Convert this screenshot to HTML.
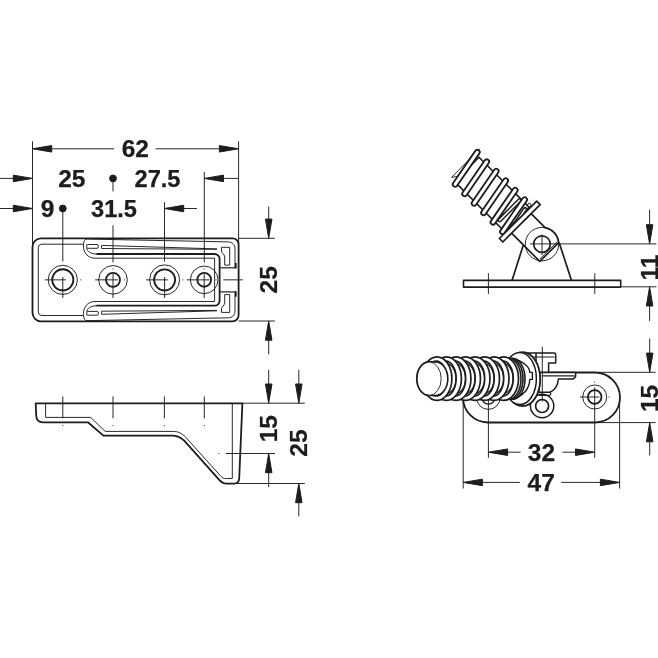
<!DOCTYPE html>
<html><head><meta charset="utf-8"><title>drawing</title>
<style>
html,body{margin:0;padding:0;background:#fff;width:658px;height:658px;overflow:hidden}
svg{display:block;filter:grayscale(1)}
svg *{stroke:#1d1d1b;stroke-linecap:butt;stroke-linejoin:round}
text{font-family:"Liberation Sans",sans-serif;font-weight:bold;font-size:24.5px;fill:#1d1d1b;stroke:#1d1d1b;stroke-width:0.25px;paint-order:stroke}
</style></head><body>
<svg width="658" height="658" viewBox="0 0 658 658">
<rect x="0" y="0" width="658" height="658" fill="#fff" stroke="none" style="stroke:none"/>
<line x1="32.50" y1="141.30" x2="32.50" y2="247.00" stroke-width="0.95"/>
<line x1="238.60" y1="141.30" x2="238.60" y2="246.00" stroke-width="0.95"/>
<polygon points="32.50,148.80 51.70,152.05 51.70,145.55" fill="#1d1d1b" stroke="none"/>
<line x1="50.00" y1="148.80" x2="114.00" y2="148.80" stroke-width="0.95"/>
<polygon points="238.60,148.80 219.40,145.55 219.40,152.05" fill="#1d1d1b" stroke="none"/>
<line x1="155.50" y1="148.80" x2="221.00" y2="148.80" stroke-width="0.95"/>
<text x="135.30" y="157.30" text-anchor="middle">62</text>
<line x1="0.00" y1="178.40" x2="14.00" y2="178.40" stroke-width="0.95"/>
<polygon points="32.50,178.40 13.30,175.15 13.30,181.65" fill="#1d1d1b" stroke="none"/>
<text x="71.80" y="186.80" text-anchor="middle">25</text>
<circle cx="113.00" cy="178.40" r="3.4" fill="#1d1d1b" stroke="none"/>
<text x="157.50" y="186.80" text-anchor="middle" textLength="46.01" lengthAdjust="spacingAndGlyphs">27.5</text>
<polygon points="204.30,178.40 223.50,181.65 223.50,175.15" fill="#1d1d1b" stroke="none"/>
<line x1="222.00" y1="178.40" x2="238.60" y2="178.40" stroke-width="0.95"/>
<line x1="204.30" y1="172.00" x2="204.30" y2="262.40" stroke-width="0.95"/>
<line x1="0.00" y1="208.50" x2="14.00" y2="208.50" stroke-width="0.95"/>
<polygon points="32.50,208.50 13.30,205.25 13.30,211.75" fill="#1d1d1b" stroke="none"/>
<text x="47.50" y="216.80" text-anchor="middle">9</text>
<circle cx="62.80" cy="208.50" r="3.4" fill="#1d1d1b" stroke="none"/>
<text x="114.00" y="216.80" text-anchor="middle" textLength="46.01" lengthAdjust="spacingAndGlyphs">31.5</text>
<polygon points="164.50,208.50 183.70,211.75 183.70,205.25" fill="#1d1d1b" stroke="none"/>
<line x1="182.00" y1="208.50" x2="197.00" y2="208.50" stroke-width="0.95"/>
<line x1="164.50" y1="202.20" x2="164.50" y2="261.50" stroke-width="0.95"/>
<line x1="113.00" y1="178.40" x2="113.00" y2="191.40" stroke-width="0.95"/>
<line x1="113.00" y1="225.30" x2="113.00" y2="262.40" stroke-width="0.95"/>
<line x1="62.80" y1="208.50" x2="62.80" y2="261.50" stroke-width="0.95"/>
<path d="M41,238.4 H232.6 A6,6 0 0 1 238.6,244.4 V315.3 A6,6 0 0 1 232.6,321.3 H41 A8.5,8.5 0 0 1 32.5,312.8 V246.9 A8.5,8.5 0 0 1 41,238.4 Z" stroke-width="1.8" fill="none" />
<path d="M83.4,244.2 H41.8 A3.5,3.5 0 0 0 38.3,247.7 V312 A3.5,3.5 0 0 0 41.8,315.5 H83.4" stroke-width="0.95" fill="none" />
<path d="M85.6,239.00 L228.5,241.90 C232,242.00 235,244.50 235,248.50 V267.80" stroke-width="0.95" fill="none" />
<path d="M85.8,239.00 C84,240.50 83.3,243.00 83.4,246.00 C83.5,253.00 88,258.20 95,258.20 H214.6 V279.85" stroke-width="0.95" fill="none" />
<path d="M86.8,244.50 V248.30 C87.2,251.50 91,254.00 97,254.00" stroke-width="0.95" fill="none" />
<path d="M96.5,254.00 H214.5 A5,5 0 0 1 219.6,259.00 V279.85" stroke-width="1.8" fill="none" />
<path d="M87.2,244.50 H97 A1.4,1.9 0 0 1 97,248.30 H87.2" stroke-width="0.95" fill="none" />
<path d="M217,248.90 L101.6,245.40 V248.50 L217,249.30" stroke-width="0.95" fill="none" />
<path d="M221.5,247.30 H229.7 V265.10 H224.7 V257.00 C224.7,254.00 221.5,253.00 221.5,251.00 Z" stroke-width="0.95" fill="none" />
<line x1="220.10" y1="267.80" x2="235.80" y2="267.80" stroke-width="1.2"/>
<line x1="235.80" y1="263.00" x2="235.80" y2="268.40" stroke-width="1.8"/>
<path d="M85.6,320.70 L228.5,317.80 C232,317.70 235,315.20 235,311.20 V291.90" stroke-width="0.95" fill="none" />
<path d="M85.8,320.70 C84,319.20 83.3,316.70 83.4,313.70 C83.5,306.70 88,301.50 95,301.50 H214.6 V279.85" stroke-width="0.95" fill="none" />
<path d="M86.8,315.20 V311.40 C87.2,308.20 91,305.70 97,305.70" stroke-width="0.95" fill="none" />
<path d="M96.5,305.70 H214.5 A5,5 0 0 0 219.6,300.70 V279.85" stroke-width="1.8" fill="none" />
<path d="M87.2,315.20 H97 A1.4,1.9 0 0 0 97,311.40 H87.2" stroke-width="0.95" fill="none" />
<path d="M217,310.80 L101.6,314.30 V311.20 L217,310.40" stroke-width="0.95" fill="none" />
<path d="M221.5,312.40 H229.7 V294.60 H224.7 V302.70 C224.7,305.70 221.5,306.70 221.5,308.70 Z" stroke-width="0.95" fill="none" />
<line x1="220.10" y1="291.90" x2="235.80" y2="291.90" stroke-width="1.2"/>
<line x1="235.80" y1="296.70" x2="235.80" y2="291.30" stroke-width="1.8"/>
<circle cx="62.80" cy="279.85" r="14.60" stroke-width="0.95" fill="none"/>
<circle cx="62.80" cy="279.85" r="10.60" stroke-width="1.8" fill="none"/>
<line x1="44.70" y1="279.85" x2="66.00" y2="279.85" stroke-width="0.95"/>
<line x1="80.20" y1="279.85" x2="81.20" y2="279.85" stroke-width="0.95"/>
<line x1="62.80" y1="277.00" x2="62.80" y2="298.00" stroke-width="0.95"/>
<circle cx="113.00" cy="279.85" r="14.30" stroke-width="0.95" fill="none"/>
<circle cx="113.00" cy="279.85" r="7.00" stroke-width="1.8" fill="none"/>
<line x1="95.20" y1="279.85" x2="118.00" y2="279.85" stroke-width="0.95"/>
<line x1="124.00" y1="279.85" x2="125.00" y2="279.85" stroke-width="0.95"/>
<line x1="113.00" y1="274.00" x2="113.00" y2="298.00" stroke-width="0.95"/>
<line x1="113.00" y1="268.40" x2="113.00" y2="269.40" stroke-width="0.95"/>
<circle cx="164.60" cy="279.85" r="15.00" stroke-width="0.95" fill="none"/>
<circle cx="164.60" cy="279.85" r="10.50" stroke-width="1.8" fill="none"/>
<line x1="146.00" y1="279.85" x2="167.80" y2="279.85" stroke-width="0.95"/>
<line x1="182.40" y1="279.85" x2="183.40" y2="279.85" stroke-width="0.95"/>
<line x1="164.60" y1="277.00" x2="164.60" y2="298.00" stroke-width="0.95"/>
<circle cx="204.20" cy="279.85" r="13.80" stroke-width="0.95" fill="none"/>
<circle cx="204.20" cy="279.85" r="6.90" stroke-width="1.8" fill="none"/>
<line x1="186.80" y1="279.85" x2="209.60" y2="279.85" stroke-width="0.95"/>
<line x1="215.50" y1="279.85" x2="216.50" y2="279.85" stroke-width="0.95"/>
<line x1="223.30" y1="279.85" x2="242.90" y2="279.85" stroke-width="0.95"/>
<line x1="204.20" y1="274.20" x2="204.20" y2="298.00" stroke-width="0.95"/>
<line x1="204.20" y1="268.40" x2="204.20" y2="269.40" stroke-width="0.95"/>
<line x1="238.60" y1="238.30" x2="274.90" y2="238.30" stroke-width="0.95"/>
<line x1="238.60" y1="321.00" x2="274.90" y2="321.00" stroke-width="0.95"/>
<line x1="268.70" y1="206.60" x2="268.70" y2="222.00" stroke-width="0.95"/>
<polygon points="268.70,238.30 271.95,219.10 265.45,219.10" fill="#1d1d1b" stroke="none"/>
<polygon points="268.70,321.00 265.45,340.20 271.95,340.20" fill="#1d1d1b" stroke="none"/>
<line x1="268.70" y1="338.00" x2="268.70" y2="354.40" stroke-width="0.95"/>
<text transform="translate(277.00,279.80) rotate(-90)" text-anchor="middle">25</text>
<path d="M242.4,403.3 H35.7 L36.2,415.5 C36.4,420 38.5,422.3 43,422.3 H87.9 L103.4,435.6 H172 C177,435.6 180.5,437 184.2,440.6 L219,479.6 C221.5,482.5 223.5,483.6 226.5,483.6 H234 C237.5,483.6 239,482 239.2,478.5 Z" stroke-width="1.8" fill="none" />
<path d="M45.6,403.3 V417.4 H90.7 L105.2,431.4 H173 C178,431.4 181.5,433 185.5,437 L221,476.5 C222.5,478 223.5,478.5 225.5,478.5 H232.3 V403.3" stroke-width="0.95" fill="none" />
<line x1="62.80" y1="396.40" x2="62.80" y2="418.30" stroke-width="0.95"/>
<line x1="62.80" y1="425.10" x2="62.80" y2="426.10" stroke-width="0.95"/>
<line x1="113.00" y1="396.40" x2="113.00" y2="418.30" stroke-width="0.95"/>
<line x1="113.00" y1="425.10" x2="113.00" y2="426.10" stroke-width="0.95"/>
<line x1="164.40" y1="396.40" x2="164.40" y2="418.30" stroke-width="0.95"/>
<line x1="164.40" y1="425.10" x2="164.40" y2="426.10" stroke-width="0.95"/>
<line x1="204.30" y1="396.40" x2="204.30" y2="418.30" stroke-width="0.95"/>
<line x1="204.30" y1="425.10" x2="204.30" y2="426.10" stroke-width="0.95"/>
<line x1="218.40" y1="453.50" x2="219.40" y2="453.50" stroke-width="0.95"/>
<line x1="225.80" y1="453.50" x2="275.00" y2="453.50" stroke-width="0.95"/>
<line x1="242.40" y1="403.20" x2="304.80" y2="403.20" stroke-width="0.95"/>
<line x1="236.00" y1="483.50" x2="304.80" y2="483.50" stroke-width="0.95"/>
<line x1="268.70" y1="369.80" x2="268.70" y2="386.00" stroke-width="0.95"/>
<polygon points="268.70,403.20 271.95,384.00 265.45,384.00" fill="#1d1d1b" stroke="none"/>
<polygon points="268.70,453.50 265.45,472.70 271.95,472.70" fill="#1d1d1b" stroke="none"/>
<line x1="268.70" y1="471.00" x2="268.70" y2="487.10" stroke-width="0.95"/>
<text transform="translate(277.00,428.70) rotate(-90)" text-anchor="middle">15</text>
<line x1="298.80" y1="369.80" x2="298.80" y2="386.00" stroke-width="0.95"/>
<polygon points="298.80,403.20 302.05,384.00 295.55,384.00" fill="#1d1d1b" stroke="none"/>
<polygon points="298.80,483.50 295.55,502.70 302.05,502.70" fill="#1d1d1b" stroke="none"/>
<line x1="298.80" y1="501.00" x2="298.80" y2="516.30" stroke-width="0.95"/>
<text transform="translate(306.60,443.00) rotate(-90)" text-anchor="middle">25</text>
<rect x="463.5" y="280.4" width="157.2" height="6.7" stroke-width="1.6" fill="#fff"/>
<line x1="488.40" y1="273.20" x2="488.40" y2="293.90" stroke-width="0.95"/>
<line x1="594.80" y1="273.20" x2="594.80" y2="293.90" stroke-width="0.95"/>
<line x1="523.20" y1="245.40" x2="512.00" y2="280.40" stroke-width="1.7"/>
<line x1="559.10" y1="242.40" x2="571.50" y2="280.40" stroke-width="1.7"/>
<path d="M504.81,231.80 L454.60,181.59 L479.00,157.20 L529.20,207.40 Z" stroke-width="1.6" fill="#fff" />
<line x1="499.72" y1="220.20" x2="519.51" y2="200.40" stroke-width="4.50" style="stroke-linecap:round"/>
<line x1="499.72" y1="220.20" x2="519.51" y2="200.40" stroke-width="1.50" style="stroke:#fff;stroke-linecap:round"/>
<line x1="525.03" y1="209.17" x2="509.12" y2="233.42" stroke-width="4.50" style="stroke-linecap:round"/>
<line x1="525.03" y1="209.17" x2="509.12" y2="233.42" stroke-width="1.50" style="stroke:#fff;stroke-linecap:round"/>
<path d="M479.56,148.85 L451.56,177.42 L457.29,176.36 Z" stroke-width="0.9" fill="#fff" />
<line x1="477.30" y1="152.25" x2="455.10" y2="184.35" stroke-width="6.60" style="stroke-linecap:round"/>
<line x1="477.30" y1="152.25" x2="455.10" y2="184.35" stroke-width="3.00" style="stroke:#fff;stroke-linecap:round"/>
<line x1="486.77" y1="161.72" x2="464.57" y2="193.82" stroke-width="6.60" style="stroke-linecap:round"/>
<line x1="486.77" y1="161.72" x2="464.57" y2="193.82" stroke-width="3.00" style="stroke:#fff;stroke-linecap:round"/>
<line x1="496.25" y1="171.20" x2="474.05" y2="203.30" stroke-width="6.60" style="stroke-linecap:round"/>
<line x1="496.25" y1="171.20" x2="474.05" y2="203.30" stroke-width="3.00" style="stroke:#fff;stroke-linecap:round"/>
<line x1="505.73" y1="180.67" x2="483.52" y2="212.78" stroke-width="6.60" style="stroke-linecap:round"/>
<line x1="505.73" y1="180.67" x2="483.52" y2="212.78" stroke-width="3.00" style="stroke:#fff;stroke-linecap:round"/>
<line x1="515.20" y1="190.15" x2="493.00" y2="222.25" stroke-width="6.60" style="stroke-linecap:round"/>
<line x1="515.20" y1="190.15" x2="493.00" y2="222.25" stroke-width="3.00" style="stroke:#fff;stroke-linecap:round"/>
<line x1="524.68" y1="199.62" x2="502.47" y2="231.73" stroke-width="6.60" style="stroke-linecap:round"/>
<line x1="524.68" y1="199.62" x2="502.47" y2="231.73" stroke-width="3.00" style="stroke:#fff;stroke-linecap:round"/>
<circle cx="529.34" cy="205.00" r="1.70" stroke-width="1.0" fill="#fff"/>
<path d="M531.11,213.69 L545.11,227.70 A16.7,16.7 0 0 1 558.62,242.62 L539.81,261.42 L511.59,233.21" stroke-width="1.7" fill="#fff" />
<path d="M539.81,259.02 L557.27,241.55" stroke-width="0.9" fill="none" />
<path d="M502.83,241.98 L499.36,238.51 L536.70,201.18 L540.16,204.64 Z" stroke-width="1.7" fill="#fff" />
<circle cx="542.00" cy="244.10" r="16.70" stroke-width="0.95" fill="none"/>
<circle cx="542.00" cy="244.10" r="8.30" stroke-width="1.7" fill="#fff"/>
<line x1="529.90" y1="243.90" x2="656.40" y2="243.90" stroke-width="0.95"/>
<line x1="542.00" y1="234.50" x2="542.00" y2="255.10" stroke-width="0.95"/>
<line x1="620.70" y1="286.80" x2="656.40" y2="286.80" stroke-width="0.95"/>
<line x1="649.60" y1="209.70" x2="649.60" y2="226.00" stroke-width="0.95"/>
<polygon points="649.60,243.90 652.85,224.70 646.35,224.70" fill="#1d1d1b" stroke="none"/>
<polygon points="649.60,286.80 646.35,306.00 652.85,306.00" fill="#1d1d1b" stroke="none"/>
<line x1="649.60" y1="304.00" x2="649.60" y2="320.90" stroke-width="0.95"/>
<text transform="translate(657.60,267.60) rotate(-90)" text-anchor="middle">11</text>
<rect x="463.0" y="372.5" width="157.0" height="50.0" rx="25" ry="25" stroke-width="1.8" fill="#fff"/>
<line x1="463.20" y1="401.60" x2="463.20" y2="488.50" stroke-width="0.95"/>
<line x1="619.60" y1="404.50" x2="619.60" y2="488.50" stroke-width="0.95"/>
<line x1="488.40" y1="369.70" x2="488.40" y2="457.80" stroke-width="0.95"/>
<line x1="594.70" y1="387.40" x2="594.70" y2="457.80" stroke-width="0.95"/>
<line x1="594.70" y1="381.60" x2="594.70" y2="382.60" stroke-width="0.95"/>
<circle cx="488.40" cy="397.60" r="11.80" stroke-width="0.95" fill="none"/>
<circle cx="488.40" cy="397.60" r="6.60" stroke-width="1.3" fill="none"/>
<circle cx="594.70" cy="397.00" r="12.00" stroke-width="0.95" fill="none"/>
<circle cx="594.70" cy="397.00" r="6.80" stroke-width="1.8" fill="none"/>
<line x1="580.10" y1="397.00" x2="599.30" y2="397.00" stroke-width="0.95"/>
<line x1="608.40" y1="397.00" x2="609.40" y2="397.00" stroke-width="0.95"/>
<circle cx="542.10" cy="406.00" r="11.70" stroke-width="1.5" fill="#fff"/>
<circle cx="542.10" cy="406.00" r="6.50" stroke-width="1.7" fill="#fff"/>
<path d="M541.3,372.4 H575.6 V376.6 L573.2,379 H558.4 C558,385 555,390 549.8,392.3 H538.9 V372.4 Z" stroke-width="1.5" fill="#fff" />
<line x1="542.00" y1="375.90" x2="574.60" y2="375.90" stroke-width="1.1"/>
<path d="M538.9,395.3 H548.6 A1.5,1.5 0 0 0 549.8,392.3" stroke-width="1.2" fill="none" />
<path d="M528,353.1 H554.1 A1.6,1.6 0 0 1 555.7,354.7 V363.1 H548.6 V372.3 H536 V353.1 Z" stroke-width="1.5" fill="#fff" />
<line x1="533.00" y1="357.00" x2="554.50" y2="357.00" stroke-width="1.0"/>
<line x1="542.30" y1="346.90" x2="542.30" y2="401.60" stroke-width="0.95"/>
<ellipse cx="522.6" cy="379.2" rx="17.6" ry="27" stroke-width="1.8" fill="#fff"/>
<ellipse cx="519.8" cy="378.6" rx="16.6" ry="26" stroke-width="1.5" fill="#fff"/>
<path d="M512,359 C524,361 529.6,367 529.8,372.4 H532.4 V379.4 H529.8 C529.4,389 523,396 512,399.5" stroke-width="1.4" fill="#fff" />
<ellipse cx="512.5" cy="378.8" rx="12.5" ry="20.5" stroke-width="1.6" fill="#fff"/>
<ellipse cx="510.5" cy="378.8" rx="12.5" ry="20.5" stroke-width="1.6" fill="#fff"/>
<ellipse cx="508.5" cy="378.8" rx="12.5" ry="20.5" stroke-width="1.6" fill="#fff"/>
<ellipse cx="503.64" cy="378.6" rx="14.9" ry="21.8" stroke-width="1.7" fill="#fff"/>
<ellipse cx="502.94" cy="378.6" rx="10.3" ry="17.4" stroke-width="1.7" fill="#fff"/>
<ellipse cx="502.74" cy="378.6" rx="10.3" ry="15.2" stroke-width="1.1" fill="none"/>
<ellipse cx="494.12" cy="378.6" rx="14.9" ry="21.8" stroke-width="1.7" fill="#fff"/>
<ellipse cx="493.42" cy="378.6" rx="10.3" ry="17.4" stroke-width="1.7" fill="#fff"/>
<ellipse cx="493.22" cy="378.6" rx="10.3" ry="15.2" stroke-width="1.1" fill="none"/>
<ellipse cx="484.60" cy="378.6" rx="14.9" ry="21.8" stroke-width="1.7" fill="#fff"/>
<ellipse cx="483.90" cy="378.6" rx="10.3" ry="17.4" stroke-width="1.7" fill="#fff"/>
<ellipse cx="483.70" cy="378.6" rx="10.3" ry="15.2" stroke-width="1.1" fill="none"/>
<ellipse cx="475.08" cy="378.6" rx="14.9" ry="21.8" stroke-width="1.7" fill="#fff"/>
<ellipse cx="474.38" cy="378.6" rx="10.3" ry="17.4" stroke-width="1.7" fill="#fff"/>
<ellipse cx="474.18" cy="378.6" rx="10.3" ry="15.2" stroke-width="1.1" fill="none"/>
<ellipse cx="465.56" cy="378.6" rx="14.9" ry="21.8" stroke-width="1.7" fill="#fff"/>
<ellipse cx="464.86" cy="378.6" rx="10.3" ry="17.4" stroke-width="1.7" fill="#fff"/>
<ellipse cx="464.66" cy="378.6" rx="10.3" ry="15.2" stroke-width="1.1" fill="none"/>
<ellipse cx="456.04" cy="378.6" rx="14.9" ry="21.8" stroke-width="1.7" fill="#fff"/>
<ellipse cx="455.34" cy="378.6" rx="10.3" ry="17.4" stroke-width="1.7" fill="#fff"/>
<ellipse cx="455.14" cy="378.6" rx="10.3" ry="15.2" stroke-width="1.1" fill="none"/>
<ellipse cx="446.52" cy="378.6" rx="14.9" ry="21.8" stroke-width="1.7" fill="#fff"/>
<ellipse cx="445.82" cy="378.6" rx="10.3" ry="17.4" stroke-width="1.7" fill="#fff"/>
<ellipse cx="445.62" cy="378.6" rx="10.3" ry="15.2" stroke-width="1.1" fill="none"/>
<ellipse cx="437.00" cy="378.6" rx="14.9" ry="21.8" stroke-width="1.7" fill="#fff"/>
<ellipse cx="436.30" cy="378.6" rx="10.3" ry="17.4" stroke-width="1.7" fill="#fff"/>
<ellipse cx="436.10" cy="378.6" rx="10.3" ry="15.2" stroke-width="1.1" fill="none"/>
<path d="M429,361.9 H435.6 A12.2,16.8 0 0 1 435.6,395.5 H429" stroke-width="1.6" fill="#fff" />
<ellipse cx="429" cy="378.7" rx="12.2" ry="16.8" fill="#fff" style="stroke:none"/>
<path d="M429,361.9 A12.2,16.8 0 0 0 429,395.5" stroke-width="1.8" fill="none" />
<path d="M429,361.9 A12.2,16.8 0 0 1 429,395.5" stroke-width="0.9" fill="none" />
<polygon points="488.40,452.20 507.60,455.45 507.60,448.95" fill="#1d1d1b" stroke="none"/>
<line x1="506.00" y1="452.20" x2="520.60" y2="452.20" stroke-width="0.95"/>
<line x1="562.40" y1="452.20" x2="578.00" y2="452.20" stroke-width="0.95"/>
<polygon points="594.70,452.20 575.50,448.95 575.50,455.45" fill="#1d1d1b" stroke="none"/>
<text x="541.40" y="461.00" text-anchor="middle">32</text>
<polygon points="463.20,482.40 482.40,485.65 482.40,479.15" fill="#1d1d1b" stroke="none"/>
<line x1="481.00" y1="482.40" x2="519.80" y2="482.40" stroke-width="0.95"/>
<line x1="561.20" y1="482.40" x2="603.00" y2="482.40" stroke-width="0.95"/>
<polygon points="619.60,482.40 600.40,479.15 600.40,485.65" fill="#1d1d1b" stroke="none"/>
<text x="541.20" y="491.00" text-anchor="middle">47</text>
<line x1="598.00" y1="372.30" x2="655.70" y2="372.30" stroke-width="0.95"/>
<line x1="596.00" y1="422.60" x2="655.70" y2="422.60" stroke-width="0.95"/>
<line x1="649.70" y1="338.50" x2="649.70" y2="355.00" stroke-width="0.95"/>
<polygon points="649.70,372.30 652.95,353.10 646.45,353.10" fill="#1d1d1b" stroke="none"/>
<polygon points="649.70,422.60 646.45,441.80 652.95,441.80" fill="#1d1d1b" stroke="none"/>
<line x1="649.70" y1="440.00" x2="649.70" y2="455.50" stroke-width="0.95"/>
<text transform="translate(657.90,398.40) rotate(-90)" text-anchor="middle">15</text>

</svg></body></html>
